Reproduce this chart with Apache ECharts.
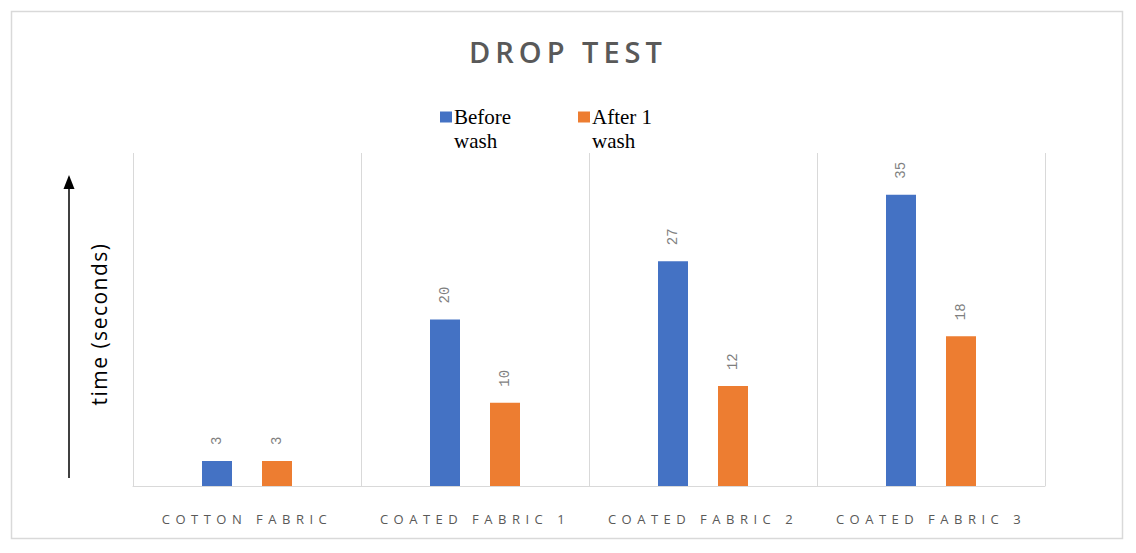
<!DOCTYPE html>
<html>
<head>
<meta charset="utf-8">
<style>
  html, body { margin: 0; padding: 0; background: #ffffff; }
  #chart { width: 1136px; height: 553px; }
  #chart text[fill="#595959"] { letter-spacing: 5px; }
  #chart text[fill="#595958"] { letter-spacing: 5.5px; }
  #chart text[fill="#000001"] { letter-spacing: 1.5px; }
</style>
<script src="https://cdn.jsdelivr.net/npm/echarts@6/dist/echarts.min.js"></script>
</head>
<body>
<div id="chart"></div>
<script>
const titleText = 'DROP TEST';
const categories = ['COTTON FABRIC', 'COATED FABRIC 1', 'COATED FABRIC 2', 'COATED FABRIC 3'];
const seriesNames = ['Before\nwash', 'After 1\nwash'];
const beforeWash = [3, 20, 27, 35];
const afterWash = [3, 10, 12, 18];
const yAxisName = 'time (seconds)';

const chart = echarts.init(document.getElementById('chart'), null, { renderer: 'svg' });

const labelOpt = {
  show: true,
  position: 'top',
  distance: 16,
  rotate: 90,
  align: 'left',
  verticalAlign: 'middle',
  fontFamily: 'Liberation Mono',
  fontSize: 14,
  color: '#7f7f7f'
};

const legendIcon = 'path://M0,0h12v11h-12z M0,35';

chart.setOption({
  animation: false,
  backgroundColor: '#ffffff',
  title: {
    text: titleText,
    left: 'center',
    top: 32,
    textStyle: {
      fontFamily: 'Open Sans',
      fontSize: 29,
      fontWeight: 600,
      color: '#595959'
    }
  },
  legend: {
    top: 100,
    left: 435,
    itemWidth: 12,
    itemHeight: 35,
    itemGap: 44,
    icon: legendIcon,
    textStyle: {
      fontFamily: 'Liberation Serif',
      fontSize: 21,
      lineHeight: 24,
      color: '#000000',
      width: 80,
      padding: [0, 0, 0, -3]
    },
    data: seriesNames.map(n => ({ name: n, icon: legendIcon }))
  },
  grid: {
    left: 133,
    right: 91,
    top: 153,
    bottom: 67,
    containLabel: false
  },
  xAxis: {
    type: 'category',
    data: categories,
    boundaryGap: true,
    axisLine: { show: true, lineStyle: { color: '#d9d9d9', width: 1 } },
    axisTick: { show: false },
    splitLine: { show: true, lineStyle: { color: '#d9d9d9', width: 1 } },
    axisLabel: {
      margin: 26,
      fontFamily: 'Open Sans',
      fontSize: 13,
      color: '#595958',
      interval: 0
    }
  },
  yAxis: {
    type: 'value',
    min: 0,
    max: 40,
    interval: 10,
    name: yAxisName,
    nameLocation: 'middle',
    nameRotate: 90,
    nameGap: 24,
    nameTextStyle: {
      fontFamily: 'Open Sans',
      fontSize: 21,
      color: '#000001',
      padding: [0, 9, 0, 0]
    },
    axisLine: { show: false },
    axisTick: { show: false },
    axisLabel: { show: false },
    splitLine: { show: false }
  },
  series: [
    {
      name: seriesNames[0],
      type: 'bar',
      data: beforeWash,
      barWidth: 30,
      barGap: '100%',
      itemStyle: { color: '#4472C4' },
      label: labelOpt
    },
    {
      name: seriesNames[1],
      type: 'bar',
      data: afterWash,
      barWidth: 30,
      barGap: '100%',
      itemStyle: { color: '#ED7D31' },
      label: labelOpt
    }
  ],
  graphic: [
    {
      type: 'rect',
      shape: { x: 11.5, y: 11.5, width: 1111, height: 527 },
      style: { fill: 'none', stroke: '#d9d9d9', lineWidth: 1.5 },
      silent: true
    },
    {
      type: 'line',
      shape: { x1: 69, y1: 478, x2: 69, y2: 186 },
      style: { stroke: '#000000', lineWidth: 1.5 },
      silent: true
    },
    {
      type: 'polygon',
      shape: { points: [[69, 175], [63.5, 189], [74.5, 189]] },
      style: { fill: '#000000' },
      silent: true
    }
  ]
});
</script>
</body>
</html>
